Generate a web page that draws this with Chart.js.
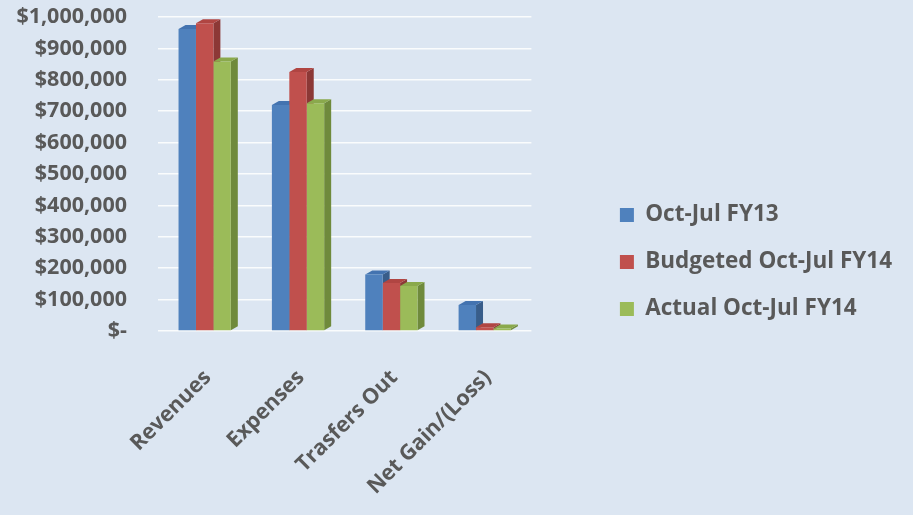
<!DOCTYPE html>
<html>
<head>
<meta charset="utf-8">
<script src="https://cdn.jsdelivr.net/npm/chart.js@4.4.0/dist/chart.umd.min.js"></script>
<style>
  html, body { margin: 0; padding: 0; background: #dce6f2; }
</style>
</head>
<body>
<canvas id="finChart" width="913" height="515"></canvas>
<script>
const categories = ['Revenues', 'Expenses', 'Trasfers Out', 'Net Gain/(Loss)'];
const seriesNames = ['Oct-Jul FY13', 'Budgeted Oct-Jul FY14', 'Actual Oct-Jul FY14'];
const fy13 = [962000, 720000, 180000, 83000];
const budgetFy14 = [980000, 825000, 153000, 12000];
const actualFy14 = [858000, 725000, 143000, 8000];
const yTickLabels = ['$-', '$100,000', '$200,000', '$300,000', '$400,000', '$500,000',
                     '$600,000', '$700,000', '$800,000', '$900,000', '$1,000,000'];

const frontColors = ['#4f81bd', '#c0504d', '#9bbb59'];
const sideColors = ['#385d8a', '#8c3836', '#6f8a3c'];
const topColors = ['#4373b0', '#b04542', '#8aa94c'];

const textColor = '#595959';
const tickFont = { family: 'Open Sans', weight: 'bold', size: 21.5 };
const legendFont = { family: 'Open Sans', weight: 'bold', size: 22.5 };

// side and top faces, drawn behind the fronts so neighbours hide them
const columnDepth = {
  id: 'columnDepth',
  beforeDatasetsDraw(chart) {
    const ctx = chart.ctx;
    const dx = 7, dy = 4;
    chart.data.datasets.forEach((ds, i) => {
      chart.getDatasetMeta(i).data.forEach(bar => {
        const p = bar.getProps(['x', 'y', 'base', 'width'], true);
        const l = p.x - p.width / 2, r = p.x + p.width / 2;
        const top = Math.min(p.y, p.base), bot = Math.max(p.y, p.base);
        ctx.save();
        ctx.fillStyle = sideColors[i];
        ctx.beginPath();
        ctx.moveTo(r, top);
        ctx.lineTo(r + dx, top - dy);
        ctx.lineTo(r + dx, bot - dy);
        ctx.lineTo(r, bot);
        ctx.closePath();
        ctx.fill();
        ctx.fillStyle = topColors[i];
        ctx.beginPath();
        ctx.moveTo(l, top);
        ctx.lineTo(l + dx, top - dy);
        ctx.lineTo(r + dx, top - dy);
        ctx.lineTo(r, top);
        ctx.closePath();
        ctx.fill();
        ctx.restore();
      });
    });
  }
};

const background = {
  id: 'background',
  beforeDraw(chart) {
    const ctx = chart.ctx;
    ctx.save();
    ctx.fillStyle = '#dce6f2';
    ctx.fillRect(0, 0, chart.width, chart.height);
    ctx.restore();
  }
};

new Chart(document.getElementById('finChart'), {
  type: 'bar',
  data: {
    labels: categories,
    datasets: [
      { label: seriesNames[0], data: fy13, backgroundColor: frontColors[0] },
      { label: seriesNames[1], data: budgetFy14, backgroundColor: frontColors[1] },
      { label: seriesNames[2], data: actualFy14, backgroundColor: frontColors[2] }
    ]
  },
  options: {
    responsive: false,
    animation: false,
    datasets: {
      bar: { categoryPercentage: 0.56, barPercentage: 1.0, borderWidth: 0 }
    },
    layout: { padding: { top: 17, right: 11, left: 0, bottom: 8 } },
    plugins: {
      legend: {
        position: 'right',
        maxWidth: 400,
        labels: {
          boxWidth: 14,
          boxHeight: 14,
          padding: 24.5,
          color: textColor,
          font: legendFont
        }
      },
      tooltip: { enabled: false }
    },
    scales: {
      x: {
        grid: { display: false },
        border: { display: false },
        ticks: {
          minRotation: 45,
          maxRotation: 45,
          padding: 26,
          labelOffset: 3,
          color: textColor,
          font: tickFont
        },
        afterFit: s => { s.height = 176; s.paddingLeft = 0; s.paddingRight = 0; }
      },
      y: {
        min: 0,
        max: 1000000,
        ticks: {
          stepSize: 100000,
          autoSkip: false,
          padding: 31,
          color: textColor,
          font: tickFont,
          callback: (v, i) => yTickLabels[i]
        },
        grid: { color: 'rgba(255,255,255,0.85)', lineWidth: 1.5, drawTicks: false },
        border: { display: false },
        afterFit: s => { s.width = 158; s.paddingTop = 0; s.paddingBottom = 0; }
      },
      gap: {
        position: 'right',
        grid: { display: false },
        border: { display: false },
        ticks: { display: false },
        afterFit: s => { s.width = 64; s.paddingTop = 0; s.paddingBottom = 0; }
      }
    }
  },
  plugins: [background, columnDepth]
});
</script>
</body>
</html>
